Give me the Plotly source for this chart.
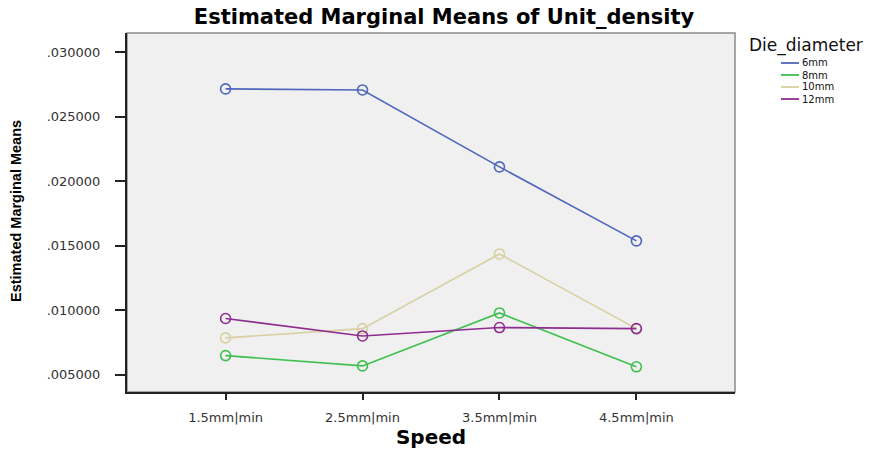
import plotly.graph_objects as go

speeds = ["1.5mm|min", "2.5mm|min", "3.5mm|min", "4.5mm|min"]
series_names = ["6mm", "8mm", "10mm", "12mm"]
vals_6mm = [0.02714, 0.02706, 0.02110, 0.01537]
vals_8mm = [0.00649, 0.00569, 0.00979, 0.00562]
vals_10mm = [0.00786, 0.00858, 0.01436, 0.00858]
vals_12mm = [0.00936, 0.00801, 0.00866, 0.00858]
series_vals = [vals_6mm, vals_8mm, vals_10mm, vals_12mm]
colors = ["#4f66bd", "#3fbf4f", "#d8d0a0", "#8e2c90"]
y_ticks = [0.005, 0.010, 0.015, 0.020, 0.025, 0.030]
y_tick_text = [".005000", ".010000", ".015000", ".020000", ".025000", ".030000"]

fig = go.Figure()
for name, vals, c in zip(series_names, series_vals, colors):
    fig.add_trace(go.Scatter(
        x=list(range(len(speeds))), y=vals, name=name, mode="lines+markers",
        line=dict(color=c, width=1.6),
        marker=dict(symbol="circle-open", size=10, color=c, line=dict(width=1.6)),
        showlegend=False,
    ))

# custom compact legend (paper coords)
L, R, T, B = 127, 735, 33, 392
W, H = R - L, B - T
def px(x):
    return (x - L) / W
def py(y):
    return (B - y) / H

annotations = [
    dict(text="Die_diameter", x=px(747), y=py(45), xref="paper", yref="paper",
         xanchor="left", yanchor="middle", showarrow=False,
         font=dict(family="DejaVu Sans", size=17, color="#111")),
]
shapes = []
for i, (name, c) in enumerate(zip(series_names, colors)):
    yy = 63 + 12 * i
    shapes.append(dict(type="line", xref="paper", yref="paper",
                       x0=px(781), x1=px(799), y0=py(yy), y1=py(yy),
                       line=dict(color=c, width=1.8)))
    annotations.append(dict(text=name, x=px(800), y=py(yy), xref="paper", yref="paper",
                            xanchor="left", yanchor="middle", showarrow=False,
                            font=dict(family="DejaVu Sans", size=10, color="#111")))

# frame: gray top/right
shapes.append(dict(type="rect", xref="paper", yref="paper", x0=0, x1=1, y0=0, y1=1,
                   line=dict(color="#8a8a8a", width=1.5), layer="below"))

annotations.append(dict(text="Estimated Marginal Means", x=px(16), y=py(211),
                        xref="paper", yref="paper", textangle=-90, showarrow=False,
                        xanchor="center", yanchor="middle",
                        font=dict(family="Liberation Sans", size=14.5, color="#000", weight="bold")))

fig.update_layout(
    width=870, height=449,
    margin=dict(l=L, r=870 - R, t=T, b=449 - B, autoexpand=False),
    paper_bgcolor="white", plot_bgcolor="#f0f0f0",
    title=dict(text="<b>Estimated Marginal Means of Unit_density</b>", x=444 / 870, xanchor="center",
               y=1 - 17 / 449, yanchor="middle",
               font=dict(family="DejaVu Sans", size=21, color="#000")),
    xaxis=dict(range=[-0.72, 3.72], tickmode="array", tickvals=list(range(len(speeds))),
               ticktext=speeds, showgrid=False, zeroline=False, showline=True, automargin=False,
               linecolor="#222", linewidth=2, ticks="outside", ticklen=6, tickwidth=2,
               tickcolor="#222", ticklabelstandoff=6,
               tickfont=dict(family="DejaVu Sans", size=13, color="#333"),
               title=dict(text="<b>Speed</b>", standoff=10,
                          font=dict(family="DejaVu Sans", size=20, color="#000"))),
    yaxis=dict(range=[0.00367, 0.03147], tickmode="array", tickvals=y_ticks,
               ticktext=y_tick_text, showgrid=False, zeroline=False, showline=True, automargin=False,
               linecolor="#222", linewidth=2, ticks="outside", ticklen=10, tickwidth=1.5,
               tickcolor="#222", ticklabelstandoff=12,
               tickfont=dict(family="DejaVu Sans", size=13, color="#333")),
    annotations=annotations, shapes=shapes,
)

fig.write_html("out.html", config={"displayModeBar": False},
               post_script="document.body.style.margin='0';document.body.style.padding='0';")
